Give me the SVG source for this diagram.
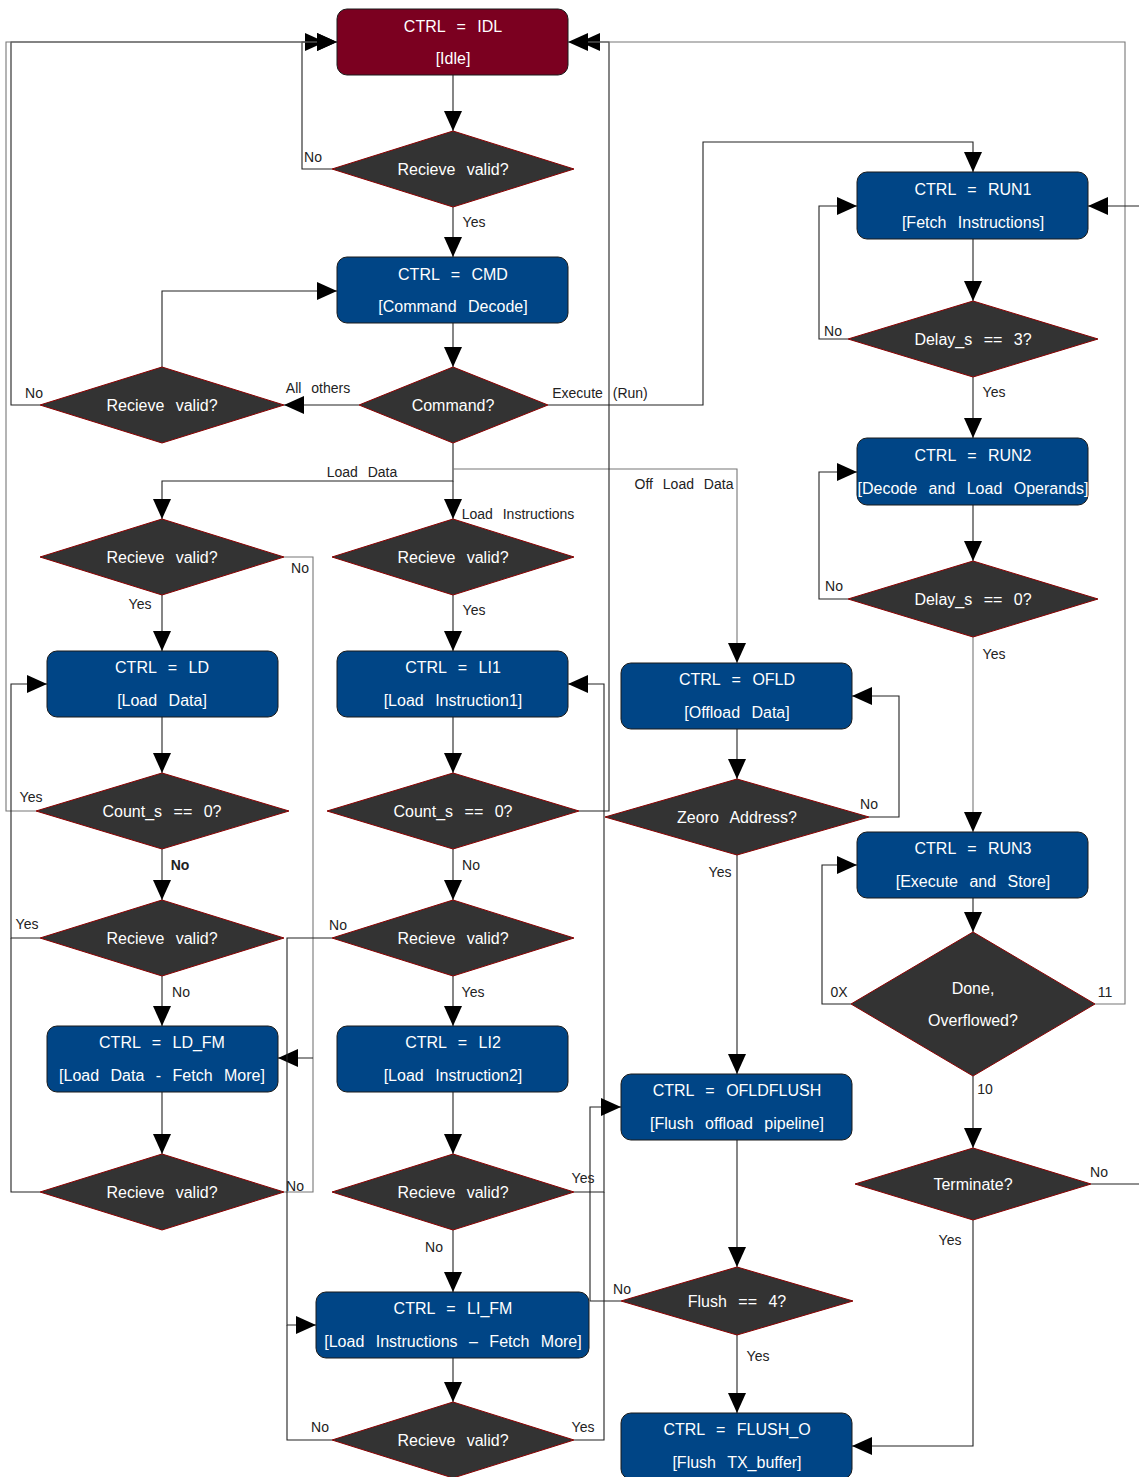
<svg xmlns="http://www.w3.org/2000/svg" width="1139" height="1477" viewBox="0 0 1139 1477">
<style>
.bg{fill:#fff}
.st{fill:#004586;stroke:#1a1a1a;stroke-width:1}
.idl{fill:#7b0020;stroke:#1a1a1a;stroke-width:1}
.dm{fill:#333;stroke:#8b0000;stroke-width:1}
.nt{font-family:"Liberation Sans",Arial,sans-serif;font-size:16px;fill:#fff;text-anchor:middle;word-spacing:7px}
.lb{font-family:"Liberation Sans",Arial,sans-serif;font-size:14px;fill:#222;text-anchor:middle;word-spacing:6px}
.c{fill:none;stroke:#222;stroke-width:1.1}
.g{stroke:#777}
.a{marker-end:url(#ar)}
</style>
<defs>
<marker id="ar" markerUnits="userSpaceOnUse" markerWidth="20" markerHeight="18" refX="20" refY="9" orient="auto">
<path d="M0,0 L20,9 L0,18 z" fill="#000"/>
</marker>
</defs>
<rect class="bg" x="0" y="0" width="1139" height="1477"/>

<g id="connectors">
<path class="c a" d="M453,75 V131"/>
<path class="c a" d="M332,169 H302 V42 H337"/>
<path class="c a" d="M453,207 V257"/>
<path class="c a" d="M453,323 V367"/>
<path class="c a" d="M359,405 H284"/>
<path class="c a" d="M162,367 V291 H337"/>
<path class="c a" d="M40,405 H11 V42 H325"/>
<path class="c a" d="M548,405 H703 V142 H973 V172"/>
<path class="c a" d="M453,443 V481 H162 V519"/>
<path class="c a" d="M453,481 V519"/>
<path class="c g a" d="M453,469 H737 V663"/>
<path class="c a" d="M162,595 V651"/>
<path class="c g" d="M284,557 H313 V1192 H284"/>
<path class="c a" d="M313,1058 H278"/>
<path class="c a" d="M162,717 V773"/>
<path class="c g a" d="M36,811 H6 V42 H337"/>
<path class="c a" d="M162,849 V900"/>
<path class="c a" d="M40,938 H11 V684 H47"/>
<path class="c a" d="M162,976 V1026"/>
<path class="c a" d="M162,1092 V1154"/>
<path class="c" d="M40,1192 H11 V938"/>
<path class="c a" d="M453,595 V651"/>
<path class="c a" d="M453,717 V773"/>
<path class="c a" d="M579,811 H609 V42 H580"/>
<path class="c a" d="M453,849 V900"/>
<path class="c a" d="M453,976 V1026"/>
<path class="c a" d="M332,938 H287 V1325 H316"/>
<path class="c a" d="M453,1092 V1154"/>
<path class="c a" d="M574,1192 H604 V684 H568"/>
<path class="c a" d="M453,1230 V1292"/>
<path class="c a" d="M453,1358 V1402"/>
<path class="c" d="M574,1440 H604 V1192"/>
<path class="c" d="M332,1440 H287 V1325"/>
<path class="c a" d="M737,729 V779"/>
<path class="c a" d="M869,817 H899 V696 H852"/>
<path class="c a" d="M737,855 V1074"/>
<path class="c a" d="M737,1140 V1267"/>
<path class="c a" d="M621,1301 H590 V1107 H621"/>
<path class="c a" d="M737,1335 V1413"/>
<path class="c a" d="M973,239 V301"/>
<path class="c a" d="M848,339 H819 V206 H857"/>
<path class="c a" d="M973,377 V438"/>
<path class="c a" d="M973,505 V561"/>
<path class="c a" d="M848,599 H819 V472 H857"/>
<path class="c g a" d="M973,637 V832"/>
<path class="c a" d="M973,898 V932"/>
<path class="c a" d="M851,1004 H822 V865 H857"/>
<path class="c g a" d="M1095,1004 H1125 V42 H568"/>
<path class="c a" d="M973,1076 V1148"/>
<path class="c a" d="M1091,1184 H1145 V206 H1088"/>
<path class="c a" d="M973,1220 V1446 H852"/>
</g>

<g id="labels">
<text class="lb" x="313" y="162">No</text>
<text class="lb" x="474" y="227">Yes</text>
<text class="lb" x="34" y="398">No</text>
<text class="lb" x="318" y="393">All others</text>
<text class="lb" x="600" y="398">Execute (Run)</text>
<text class="lb" x="362" y="477">Load Data</text>
<text class="lb" x="518" y="519">Load Instructions</text>
<text class="lb" x="684" y="489">Off Load Data</text>
<text class="lb" x="300" y="573">No</text>
<text class="lb" x="140" y="609">Yes</text>
<text class="lb" x="474" y="615">Yes</text>
<text class="lb" x="31" y="802">Yes</text>
<text class="lb" x="180" y="870" font-weight="bold">No</text>
<text class="lb" x="471" y="870">No</text>
<text class="lb" x="27" y="929">Yes</text>
<text class="lb" x="338" y="930">No</text>
<text class="lb" x="181" y="997">No</text>
<text class="lb" x="473" y="997">Yes</text>
<text class="lb" x="295" y="1191">No</text>
<text class="lb" x="583" y="1183">Yes</text>
<text class="lb" x="434" y="1252">No</text>
<text class="lb" x="320" y="1432">No</text>
<text class="lb" x="583" y="1432">Yes</text>
<text class="lb" x="869" y="809">No</text>
<text class="lb" x="720" y="877">Yes</text>
<text class="lb" x="622" y="1294">No</text>
<text class="lb" x="758" y="1361">Yes</text>
<text class="lb" x="833" y="336">No</text>
<text class="lb" x="994" y="397">Yes</text>
<text class="lb" x="834" y="591">No</text>
<text class="lb" x="994" y="659">Yes</text>
<text class="lb" x="839" y="997">0X</text>
<text class="lb" x="1105" y="997">11</text>
<text class="lb" x="985" y="1094">10</text>
<text class="lb" x="1099" y="1177">No</text>
<text class="lb" x="950" y="1245">Yes</text>
</g>

<g id="idl"><rect class="idl" x="337" y="9" width="231" height="66" rx="10"/><text class="nt" x="453" y="32">CTRL = IDL</text><text class="nt" x="453" y="64">[Idle]</text></g>
<g id="rv0"><polygon class="dm" points="453,131 574,169 453,207 332,169"/><text class="nt" x="453" y="175">Recieve valid?</text></g>
<g id="cmd"><rect class="st" x="337" y="257" width="231" height="66" rx="10"/><text class="nt" x="453" y="280">CTRL = CMD</text><text class="nt" x="453" y="312">[Command Decode]</text></g>
<g id="command"><polygon class="dm" points="453,367 548,405 453,443 359,405"/><text class="nt" x="453" y="411">Command?</text></g>
<g id="rvcmd"><polygon class="dm" points="162,367 284,405 162,443 40,405"/><text class="nt" x="162" y="411">Recieve valid?</text></g>

<g id="ld_rv1"><polygon class="dm" points="162,519 284,557 162,595 40,557"/><text class="nt" x="162" y="563">Recieve valid?</text></g>
<g id="ld"><rect class="st" x="47" y="651" width="231" height="66" rx="10"/><text class="nt" x="162" y="673">CTRL = LD</text><text class="nt" x="162" y="706">[Load Data]</text></g>
<g id="ld_cnt"><polygon class="dm" points="162,773 289,811 162,849 36,811"/><text class="nt" x="162" y="817">Count_s == 0?</text></g>
<g id="ld_rv2"><polygon class="dm" points="162,900 284,938 162,976 40,938"/><text class="nt" x="162" y="944">Recieve valid?</text></g>
<g id="ld_fm"><rect class="st" x="47" y="1026" width="231" height="66" rx="10"/><text class="nt" x="162" y="1048">CTRL = LD_FM</text><text class="nt" x="162" y="1081">[Load Data - Fetch More]</text></g>
<g id="ld_rv3"><polygon class="dm" points="162,1154 284,1192 162,1230 40,1192"/><text class="nt" x="162" y="1198">Recieve valid?</text></g>

<g id="li_rv1"><polygon class="dm" points="453,519 574,557 453,595 332,557"/><text class="nt" x="453" y="563">Recieve valid?</text></g>
<g id="li1"><rect class="st" x="337" y="651" width="231" height="66" rx="10"/><text class="nt" x="453" y="673">CTRL = LI1</text><text class="nt" x="453" y="706">[Load Instruction1]</text></g>
<g id="li_cnt"><polygon class="dm" points="453,773 579,811 453,849 327,811"/><text class="nt" x="453" y="817">Count_s == 0?</text></g>
<g id="li_rv2"><polygon class="dm" points="453,900 574,938 453,976 332,938"/><text class="nt" x="453" y="944">Recieve valid?</text></g>
<g id="li2"><rect class="st" x="337" y="1026" width="231" height="66" rx="10"/><text class="nt" x="453" y="1048">CTRL = LI2</text><text class="nt" x="453" y="1081">[Load Instruction2]</text></g>
<g id="li_rv3"><polygon class="dm" points="453,1154 574,1192 453,1230 332,1192"/><text class="nt" x="453" y="1198">Recieve valid?</text></g>
<g id="li_fm"><rect class="st" x="316" y="1292" width="273" height="66" rx="10"/><text class="nt" x="453" y="1314">CTRL = LI_FM</text><text class="nt" x="453" y="1347">[Load Instructions – Fetch More]</text></g>
<g id="li_rv4"><polygon class="dm" points="453,1402 574,1440 453,1478 332,1440"/><text class="nt" x="453" y="1446">Recieve valid?</text></g>

<g id="ofld"><rect class="st" x="621" y="663" width="231" height="66" rx="10"/><text class="nt" x="737" y="685">CTRL = OFLD</text><text class="nt" x="737" y="718">[Offload Data]</text></g>
<g id="zero"><polygon class="dm" points="737,779 869,817 737,855 605,817"/><text class="nt" x="737" y="823">Zeoro Address?</text></g>
<g id="ofldflush"><rect class="st" x="621" y="1074" width="231" height="66" rx="10"/><text class="nt" x="737" y="1096">CTRL = OFLDFLUSH</text><text class="nt" x="737" y="1129">[Flush offload pipeline]</text></g>
<g id="flush"><polygon class="dm" points="737,1267 853,1301 737,1335 621,1301"/><text class="nt" x="737" y="1307">Flush == 4?</text></g>
<g id="flush_o"><rect class="st" x="621" y="1413" width="231" height="66" rx="10"/><text class="nt" x="737" y="1435">CTRL = FLUSH_O</text><text class="nt" x="737" y="1468">[Flush TX_buffer]</text></g>

<g id="run1"><rect class="st" x="857" y="172" width="231" height="67" rx="10"/><text class="nt" x="973" y="195">CTRL = RUN1</text><text class="nt" x="973" y="228">[Fetch Instructions]</text></g>
<g id="delay3"><polygon class="dm" points="973,301 1098,339 973,377 848,339"/><text class="nt" x="973" y="345">Delay_s == 3?</text></g>
<g id="run2"><rect class="st" x="857" y="438" width="231" height="67" rx="10"/><text class="nt" x="973" y="461">CTRL = RUN2</text><text class="nt" x="973" y="494">[Decode and Load Operands]</text></g>
<g id="delay0"><polygon class="dm" points="973,561 1098,599 973,637 848,599"/><text class="nt" x="973" y="605">Delay_s == 0?</text></g>
<g id="run3"><rect class="st" x="857" y="832" width="231" height="66" rx="10"/><text class="nt" x="973" y="854">CTRL = RUN3</text><text class="nt" x="973" y="887">[Execute and Store]</text></g>
<g id="done"><polygon class="dm" points="973,932 1095,1004 973,1076 851,1004"/><text class="nt" x="973" y="994">Done,</text><text class="nt" x="973" y="1026">Overflowed?</text></g>
<g id="terminate"><polygon class="dm" points="973,1148 1091,1184 973,1220 855,1184"/><text class="nt" x="973" y="1190">Terminate?</text></g>
</svg>
